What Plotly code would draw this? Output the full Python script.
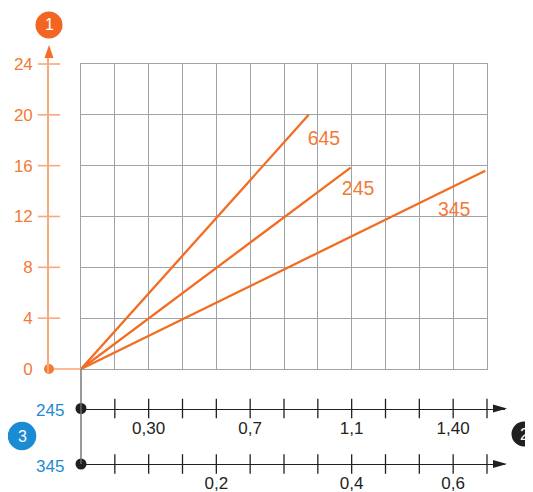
import plotly.graph_objects as go

# ---------------- data ----------------
series_names = ["645", "245", "345"]
series_x_end = [6.73, 7.97, 11.95]      # in grid columns
series_y_end = [20.0, 15.85, 15.6]

label_x = [7.18, 8.19, 11.03]
label_y = [18.0, 14.1, 12.4]

y_ticks = [0, 4, 8, 12, 16, 20, 24]
y_ticktext = ["0", "4", "8", "12", "16", "20", "24"]

bottom_ticks = [1, 2, 3, 4, 5, 6, 7, 8, 9, 10, 11, 12]
scale245_pos = [2, 5, 8, 11]
scale245_text = ["0,30", "0,7", "1,1", "1,40"]
scale345_pos = [4, 8, 11]
scale345_text = ["0,2", "0,4", "0,6"]
scale_names = ["245", "345"]

# ---------------- geometry (screen pixels, page body has an 8px margin) ----------------
OFF = 8
W, H = 533 - OFF, 492 - OFF
L, R, T, B = 49 - OFF, 26, 45 - OFF, 28
PW, PH = W - L - R, H - T - B


def fx(px):
    return (px - OFF - L) / PW


def fy(py):
    return (H - B - (py - OFF)) / PH


X0, X1 = 81, 487
Y0, Y1 = 369, 64
UX = (X1 - X0) / 12.0
UY = (Y0 - Y1) / 24.0
AX245, AX345 = 408.5, 464

ORANGE = "#F26D22"
ORANGE_TXT = "#F37A36"
ORANGE_AX = "#F9A97C"
GRID = "#9DA3A9"
DARK = "#231F20"
BLUE = "#1B8CD4"
FONT = "Liberation Sans"

fig = go.Figure()

# main lines
for name, xe, ye in zip(series_names, series_x_end, series_y_end):
    fig.add_trace(go.Scatter(x=[0, xe], y=[0, ye], mode="lines",
                             line=dict(color=ORANGE, width=2.3),
                             xaxis="x", yaxis="y", showlegend=False, hoverinfo="skip"))
fig.add_trace(go.Scatter(x=label_x, y=label_y, mode="text", text=series_names,
                         textfont=dict(color=ORANGE_TXT, size=19.5, family=FONT),
                         xaxis="x", yaxis="y", cliponaxis=False, showlegend=False, hoverinfo="skip"))

# orange y axis: horizontal stub, dot, ticks
fig.add_trace(go.Scatter(x=[0, 1], y=[0, 0], mode="lines", line=dict(color=ORANGE_AX, width=1.6),
                         xaxis="x4", yaxis="y2", showlegend=False, hoverinfo="skip"))
fig.add_trace(go.Scatter(x=[0] * (len(y_ticks) - 1), y=y_ticks[1:], mode="markers",
                         marker=dict(symbol="line-ew", size=16, line=dict(width=1.6, color=ORANGE_AX)),
                         xaxis="x4", yaxis="y2", cliponaxis=False, showlegend=False, hoverinfo="skip"))
fig.add_trace(go.Scatter(x=[0], y=[0], mode="markers",
                         marker=dict(size=10, color="#F47B30"),
                         xaxis="x4", yaxis="y2", cliponaxis=False, showlegend=False, hoverinfo="skip"))

# bottom axes ticks and dots
for xa, ya in (("x2", "y3"), ("x3", "y4")):
    fig.add_trace(go.Scatter(x=bottom_ticks, y=[0] * len(bottom_ticks), mode="markers",
                             marker=dict(symbol="line-ns", size=14, line=dict(width=1.3, color=DARK)),
                             xaxis=xa, yaxis=ya, cliponaxis=False, showlegend=False, hoverinfo="skip"))
    fig.add_trace(go.Scatter(x=[0], y=[0], mode="markers", marker=dict(size=11, color=DARK),
                             xaxis=xa, yaxis=ya, cliponaxis=False, showlegend=False, hoverinfo="skip"))

tickfont_dark = dict(color=DARK, size=17, family=FONT)
x2_max = 12 * (505 - X0) / (X1 - X0)

fig.update_layout(
    width=W, height=H,
    margin=dict(l=L, r=R, t=T, b=B, autoexpand=False),
    paper_bgcolor="white", plot_bgcolor="rgba(0,0,0,0)",
    showlegend=False,
    xaxis=dict(domain=[fx(X0), fx(X1)], range=[0, 12], tickvals=list(range(13)),
               showgrid=True, gridcolor=GRID, gridwidth=1.3, showticklabels=False, ticks="",
               zeroline=False, showline=True, mirror=True, linecolor=GRID, linewidth=1.3,
               anchor="y", fixedrange=True, automargin=False),
    yaxis=dict(domain=[fy(Y0), fy(Y1)], range=[0, 24], tickvals=y_ticks,
               showgrid=True, gridcolor=GRID, gridwidth=1.3, showticklabels=False, ticks="",
               zeroline=False, showline=True, mirror=True, linecolor=GRID, linewidth=1.3,
               anchor="x", fixedrange=True, automargin=False),
    # orange axis
    xaxis4=dict(domain=[0, fx(X0)], range=[0, 1], visible=False, anchor="y2", fixedrange=True,
                automargin=False),
    yaxis2=dict(domain=[fy(Y0 + 4), fy(50)], range=[-4 / UY, (Y0 - 50) / UY], anchor="x4",
                side="left", showline=True, linecolor=ORANGE_AX, linewidth=1.6,
                showgrid=False, zeroline=False, ticks="", tickvals=y_ticks, ticktext=y_ticktext,
                tickfont=dict(color=ORANGE_TXT, size=17, family=FONT), ticklabelstandoff=11,
                fixedrange=True, automargin=False),
    # bottom axis 245
    xaxis2=dict(domain=[fx(X0), fx(505)], range=[0, x2_max], anchor="y3", side="bottom",
                showline=True, linecolor=DARK, linewidth=1.4, showgrid=False, zeroline=False,
                ticks="", tickvals=scale245_pos, ticktext=scale245_text, tickfont=tickfont_dark,
                ticklabelstandoff=4, fixedrange=True, automargin=False),
    yaxis3=dict(domain=[fy(AX245), fy(AX245) + 0.02], range=[0, 1], visible=False,
                anchor="x2", fixedrange=True, automargin=False),
    # bottom axis 345
    xaxis3=dict(domain=[fx(X0), fx(505)], range=[0, x2_max], anchor="y4", side="bottom",
                showline=True, linecolor=DARK, linewidth=1.4, showgrid=False, zeroline=False,
                ticks="", tickvals=scale345_pos, ticktext=scale345_text, tickfont=tickfont_dark,
                ticklabelstandoff=3, fixedrange=True, automargin=False),
    yaxis4=dict(domain=[fy(AX345), fy(AX345) + 0.02], range=[0, 1], visible=False,
                anchor="x3", fixedrange=True, automargin=False),
)

shapes = []
# connector line under grid
shapes.append(dict(type="line", xref="paper", yref="paper", x0=fx(X0), x1=fx(X0),
                   y0=fy(Y0), y1=fy(AX345), line=dict(color="#6E6E6E", width=1.4)))


def tri(pts, color):
    path = "M" + " L".join(f"{fx(px):.5f},{fy(py):.5f}" for px, py in pts) + " Z"
    return dict(type="path", xref="paper", yref="paper", path=path,
                fillcolor=color, line=dict(width=0))


shapes.append(tri([(49, 45), (44.5, 58), (53.5, 58)], "#F36F27"))
shapes.append(tri([(507, AX245), (493, AX245 - 4), (493, AX245 + 4)], DARK))
shapes.append(tri([(507, AX345), (493, AX345 - 4), (493, AX345 + 4)], DARK))


def circle(cx, cy, r, color):
    return dict(type="circle", xref="paper", yref="paper", x0=fx(cx - r), x1=fx(cx + r),
                y0=fy(cy + r), y1=fy(cy - r), fillcolor=color, line=dict(width=0))


badges = [("1", 49, 25, 13.5, "#F26522"), ("3", 22, 436, 14.3, BLUE), ("2", 524, 434, 12.5, DARK)]
annotations = []
for txt, cx, cy, r, col in badges:
    shapes.append(circle(cx, cy, r, col))
    annotations.append(dict(text=txt, x=fx(cx), y=fy(cy), xref="paper", yref="paper",
                            showarrow=False, xanchor="center", yanchor="middle",
                            font=dict(color="white", size=16, family=FONT)))

for name, ay in zip(scale_names, (AX245, AX345)):
    annotations.append(dict(text=name, x=fx(66), y=fy(ay + 2), xref="paper", yref="paper",
                            showarrow=False, xanchor="right", yanchor="middle",
                            font=dict(color=BLUE, size=17, family=FONT)))

fig.update_layout(shapes=shapes, annotations=annotations)

fig.write_html("out.html", config={"displayModeBar": False})
